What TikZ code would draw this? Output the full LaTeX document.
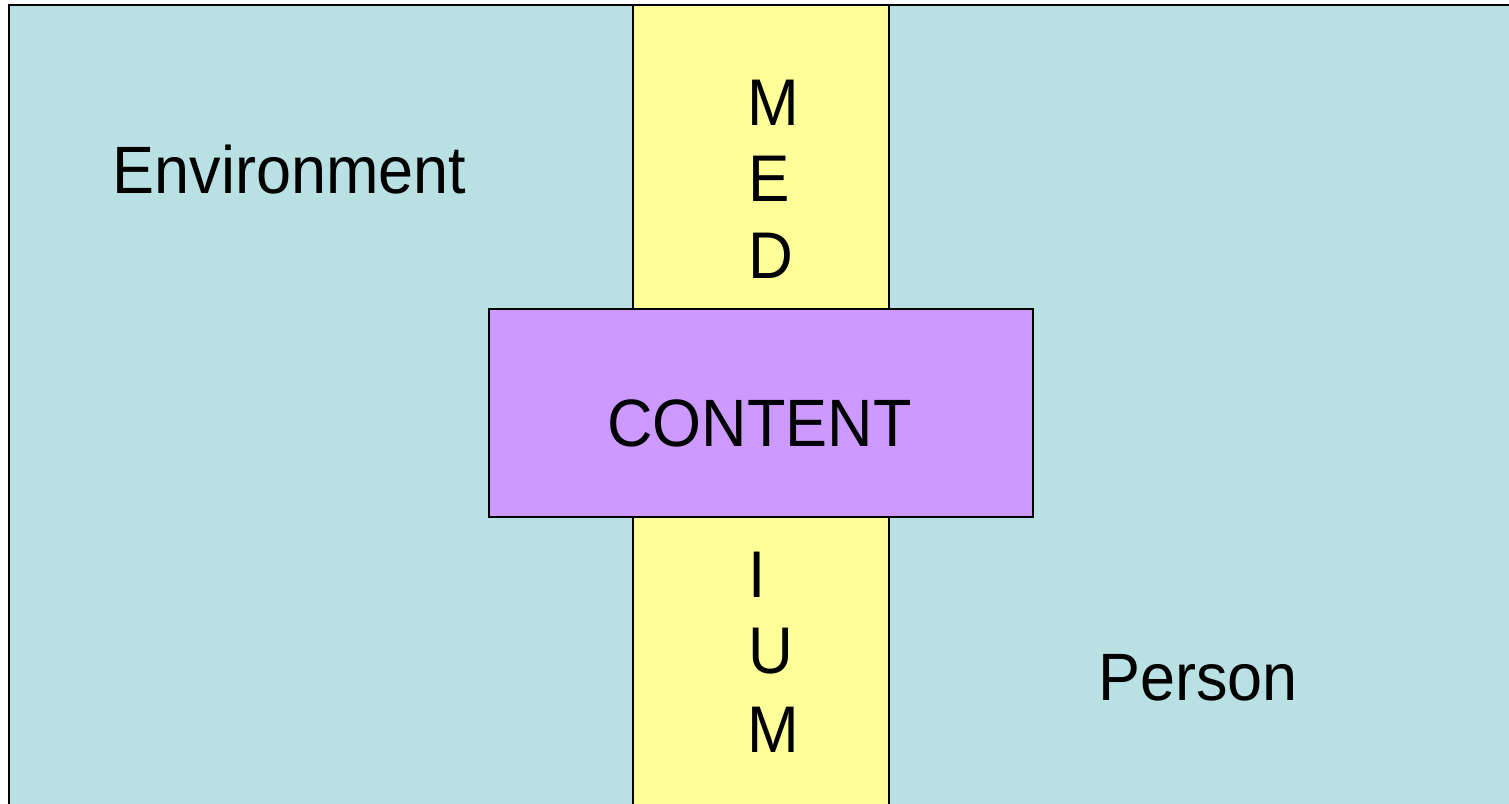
\documentclass[tikz,border=0pt]{standalone}
\usepackage{fontspec}
\usepackage{graphicx}
\setmainfont{Liberation Sans}
\definecolor{envcol}{RGB}{185,224,227}
\definecolor{medcol}{RGB}{255,255,153}
\definecolor{concol}{RGB}{204,153,255}
\tikzset{
  box/.style={draw=black, line width=2pt},
  lab/.style={inner sep=0pt, anchor=base, font=\fontsize{67}{80}\selectfont},
  let/.style={inner sep=0pt, anchor=base west, font=\fontsize{66}{79}\selectfont},
}
\newcommand{\sq}[1]{\scalebox{0.94}[1]{#1}}
\begin{document}
\begin{tikzpicture}[x=1pt,y=-1pt]
\useasboundingbox (0,0) rectangle (1509,803);
\clip (0,0) rectangle (1509,803);
\fill[white] (0,0) rectangle (1509,803);
\draw[box, fill=envcol] (9,5) rectangle (1530,830);
\draw[box, fill=medcol] (633,5) rectangle (889,830);
\draw[box, fill=concol] (489,309) rectangle (1033,517);
\node[lab] (env) at (289.5,193) {\sq{Environment}};
\node[lab] (con) at (759.5,446) {\sq{CONTENT}};
\node[lab] (per) at (1198,700) {\sq{Person}};
\node[let] (m1) at (747,125) {\sq{M}};
\node[let] (e1) at (748,201) {\sq{E}};
\node[let] (d1) at (748,278) {\sq{D}};
\node[let] (i1) at (748,597) {\sq{I}};
\node[let] (u1) at (748,673) {\sq{U}};
\node[let] (m2) at (747,752) {\sq{M}};
\end{tikzpicture}
\end{document}
